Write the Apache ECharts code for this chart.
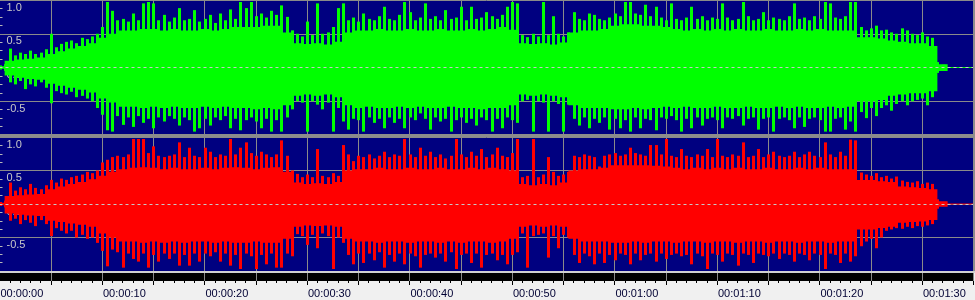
<!DOCTYPE html>
<html><head><meta charset="utf-8">
<script src="https://cdn.jsdelivr.net/npm/echarts@6/dist/echarts.min.js"></script>
<style>html,body{margin:0;padding:0;background:#f0f0f0;overflow:hidden}#c{width:975px;height:300px}</style>
</head><body><div id="c"></div>
<script>
// ---- tick labels ----
const timeTickValues = [0,10,20,30,40,50,60,70,80,90];
const timeTickLabels = ['00:00:00','00:00:10','00:00:20','00:00:30','00:00:40','00:00:50','00:01:00','00:01:10','00:01:20','00:01:30'];
const ampTickValues = [1, 0.5, 0, -0.5];
const ampTickLabels = ['1.0','0.5','0.0','-0.5'];

// ---- time resolution of the arrays (seconds per entry) ----
const bodyStep = 1;
const peakStep = 0.5;
const trackEnd = 95;

// ---- left channel (green): dense body envelope, 1 s bins ----
const leftBodyUpper = [0.02,0.1,0.12,0.13,0.15,0.2,0.24,0.28,0.32,0.36,
0.44,0.5,0.55,0.55,0.57,0.57,0.55,0.57,0.55,0.55,
0.57,0.55,0.57,0.6,0.6,0.6,0.62,0.62,0.52,0.36,
0.35,0.36,0.34,0.38,0.52,0.55,0.55,0.57,0.55,0.55,
0.57,0.55,0.55,0.57,0.55,0.55,0.57,0.55,0.57,0.6,
0.56,0.36,0.35,0.36,0.34,0.37,0.52,0.55,0.55,0.57,
0.62,0.64,0.64,0.62,0.62,0.6,0.57,0.55,0.57,0.55,
0.57,0.55,0.57,0.55,0.55,0.57,0.55,0.55,0.57,0.55,
0.57,0.55,0.55,0.55,0.45,0.45,0.43,0.4,0.38,0.36,
0.36,0.32,0.05];
const leftBodyLower = [-0.02,-0.12,-0.15,-0.17,-0.18,-0.24,-0.27,-0.3,-0.33,-0.37,
-0.46,-0.52,-0.58,-0.58,-0.6,-0.58,-0.6,-0.58,-0.6,-0.6,
-0.58,-0.6,-0.58,-0.6,-0.6,-0.62,-0.6,-0.62,-0.56,-0.42,
-0.4,-0.42,-0.4,-0.44,-0.56,-0.6,-0.58,-0.6,-0.6,-0.58,
-0.6,-0.58,-0.6,-0.6,-0.58,-0.6,-0.6,-0.62,-0.6,-0.6,
-0.56,-0.4,-0.42,-0.4,-0.42,-0.44,-0.56,-0.6,-0.6,-0.6,
-0.62,-0.62,-0.6,-0.62,-0.6,-0.58,-0.6,-0.58,-0.6,-0.6,
-0.58,-0.6,-0.6,-0.58,-0.6,-0.6,-0.58,-0.6,-0.58,-0.6,
-0.6,-0.58,-0.6,-0.58,-0.5,-0.5,-0.48,-0.42,-0.4,-0.38,
-0.38,-0.35,-0.05];
// ---- left channel: peak values, 0.5 s bins ----
const leftPeakUpper = [0.03,0.05,0.28,0.18,0.22,0.2,0.25,0.2,0.22,0.27,
0.5,0.3,0.35,0.38,0.4,0.36,0.44,0.42,0.46,0.5,
0.6,0.97,0.84,0.7,0.72,0.68,0.8,0.7,0.95,0.97,
0.95,0.7,0.78,0.68,0.74,0.88,0.7,0.72,0.85,0.68,
0.72,0.78,0.66,0.8,0.7,0.86,0.72,0.97,0.88,0.97,
0.76,0.8,0.74,0.84,0.78,0.92,0.75,0.55,0.5,0.46,
0.68,0.48,0.95,0.5,0.52,0.6,0.88,0.95,0.7,0.74,
0.68,0.8,0.72,0.7,0.76,0.9,0.72,0.7,0.78,0.97,
0.82,0.7,0.74,0.95,0.72,0.76,0.7,0.85,0.72,0.74,
0.9,0.7,0.9,0.72,0.74,0.82,0.76,0.72,0.78,0.9,
0.97,0.95,0.48,0.45,0.5,0.46,0.97,0.48,0.76,0.5,
0.46,0.52,0.82,0.72,0.7,0.8,0.78,0.72,0.7,0.74,
0.8,0.76,0.97,0.97,0.8,0.78,0.93,0.76,0.9,0.74,
0.7,0.95,0.72,0.7,0.74,0.9,0.72,0.76,0.7,0.74,
0.72,0.95,0.74,0.7,0.72,0.97,0.76,0.7,0.72,0.82,
0.7,0.74,0.72,0.7,0.76,0.95,0.72,0.74,0.7,0.76,
0.72,0.97,0.95,0.74,0.72,0.76,0.97,0.97,0.6,0.55,
0.58,0.62,0.55,0.56,0.52,0.5,0.58,0.55,0.5,0.48,
0.52,0.46,0.44,0.08,0.04];
const leftPeakLower = [-0.03,-0.05,-0.22,-0.25,-0.2,-0.32,-0.25,-0.28,-0.22,-0.3,
-0.53,-0.35,-0.38,-0.4,-0.36,-0.44,-0.42,-0.46,-0.5,-0.6,
-0.7,-0.93,-0.95,-0.72,-0.85,-0.74,-0.88,-0.72,-0.82,-0.76,
-0.9,-0.74,-0.8,-0.72,-0.76,-0.86,-0.74,-0.78,-0.95,-0.9,
-0.76,-0.86,-0.74,-0.78,-0.72,-0.9,-0.76,-0.93,-0.78,-0.74,
-0.8,-0.9,-0.76,-0.95,-0.78,-0.95,-0.74,-0.62,-0.5,-0.52,
-0.95,-0.5,-0.55,-0.62,-0.52,-0.95,-0.6,-0.8,-0.92,-0.76,
-0.78,-0.95,-0.74,-0.82,-0.76,-0.9,-0.74,-0.82,-0.76,-0.9,
-0.74,-0.78,-0.68,-0.76,-0.92,-0.74,-0.8,-0.76,-0.95,-0.78,
-0.74,-0.82,-0.76,-0.86,-0.74,-0.78,-0.95,-0.76,-0.9,-0.74,
-0.78,-0.82,-0.5,-0.48,-0.95,-0.5,-0.52,-0.95,-0.5,-0.54,
-0.95,-0.55,-0.76,-0.86,-0.74,-0.9,-0.76,-0.82,-0.74,-0.92,
-0.76,-0.9,-0.78,-0.95,-0.74,-0.9,-0.76,-0.78,-0.93,-0.74,
-0.76,-0.72,-0.78,-0.95,-0.76,-0.9,-0.74,-0.86,-0.76,-0.74,
-0.78,-0.9,-0.74,-0.76,-0.72,-0.86,-0.76,-0.74,-0.92,-0.76,
-0.74,-0.95,-0.76,-0.74,-0.78,-0.9,-0.74,-0.88,-0.76,-0.74,
-0.78,-0.95,-0.95,-0.76,-0.74,-0.92,-0.8,-0.95,-0.66,-0.75,
-0.6,-0.72,-0.6,-0.56,-0.64,-0.54,-0.5,-0.56,-0.5,-0.48,
-0.46,-0.56,-0.44,-0.08,-0.04];

// ---- right channel (red): dense body envelope, 1 s bins ----
const rightBodyUpper = [0.02,0.12,0.13,0.14,0.15,0.22,0.26,0.3,0.33,0.37,
0.42,0.48,0.52,0.54,0.55,0.54,0.52,0.54,0.52,0.52,
0.54,0.52,0.54,0.55,0.54,0.52,0.54,0.55,0.48,0.32,
0.3,0.31,0.3,0.33,0.5,0.52,0.52,0.54,0.52,0.52,
0.54,0.52,0.52,0.54,0.52,0.52,0.54,0.52,0.54,0.52,
0.5,0.3,0.28,0.3,0.28,0.32,0.5,0.52,0.52,0.54,
0.58,0.58,0.58,0.58,0.57,0.56,0.54,0.52,0.54,0.52,
0.54,0.52,0.54,0.52,0.52,0.54,0.52,0.52,0.54,0.52,
0.54,0.52,0.52,0.52,0.36,0.36,0.34,0.33,0.26,0.25,
0.24,0.22,0.04];
const rightBodyLower = [-0.02,-0.14,-0.16,-0.17,-0.18,-0.25,-0.27,-0.29,-0.31,-0.34,
-0.44,-0.5,-0.56,-0.56,-0.58,-0.56,-0.58,-0.56,-0.58,-0.56,
-0.56,-0.58,-0.56,-0.58,-0.58,-0.56,-0.58,-0.58,-0.52,-0.34,
-0.32,-0.33,-0.32,-0.34,-0.52,-0.56,-0.56,-0.58,-0.56,-0.56,
-0.58,-0.56,-0.56,-0.58,-0.56,-0.58,-0.56,-0.56,-0.58,-0.56,
-0.52,-0.34,-0.32,-0.34,-0.32,-0.34,-0.52,-0.56,-0.56,-0.56,
-0.58,-0.58,-0.56,-0.58,-0.56,-0.56,-0.58,-0.56,-0.56,-0.58,
-0.56,-0.56,-0.58,-0.56,-0.56,-0.58,-0.56,-0.56,-0.58,-0.56,
-0.56,-0.58,-0.56,-0.56,-0.38,-0.38,-0.36,-0.34,-0.28,-0.27,
-0.26,-0.24,-0.04];
// ---- right channel: peak values, 0.5 s bins ----
const rightPeakUpper = [0.03,0.05,0.32,0.2,0.25,0.22,0.3,0.24,0.22,0.28,
0.36,0.32,0.38,0.36,0.4,0.42,0.44,0.48,0.46,0.5,
0.62,0.66,0.7,0.72,0.7,0.74,0.97,0.97,0.97,0.76,
0.86,0.72,0.7,0.72,0.74,0.92,0.7,0.84,0.72,0.7,
0.84,0.78,0.7,0.74,0.72,0.97,0.74,0.84,0.92,0.76,
0.72,0.78,0.74,0.7,0.74,0.95,0.72,0.5,0.45,0.4,
0.44,0.4,0.82,0.42,0.4,0.46,0.42,0.88,0.74,0.64,
0.72,0.7,0.74,0.68,0.72,0.78,0.7,0.74,0.72,0.97,
0.74,0.7,0.84,0.72,0.78,0.7,0.74,0.68,0.72,0.97,
0.74,0.7,0.78,0.72,0.82,0.7,0.74,0.84,0.72,0.7,
0.76,0.97,0.4,0.42,0.97,0.4,0.44,0.7,0.48,0.42,
0.44,0.48,0.72,0.7,0.74,0.72,0.7,0.56,0.72,0.74,
0.76,0.72,0.74,0.84,0.76,0.74,0.72,0.88,0.88,0.74,
0.97,0.72,0.7,0.82,0.72,0.7,0.74,0.72,0.82,0.7,
0.97,0.72,0.7,0.74,0.72,0.92,0.7,0.72,0.82,0.7,
0.74,0.78,0.72,0.7,0.72,0.78,0.7,0.74,0.78,0.72,
0.7,0.92,0.74,0.7,0.78,0.72,0.96,0.95,0.47,0.44,
0.42,0.46,0.4,0.42,0.38,0.41,0.35,0.33,0.32,0.34,
0.3,0.32,0.3,0.07,0.03];
const rightPeakLower = [-0.03,-0.05,-0.25,-0.22,-0.3,-0.24,-0.28,-0.33,-0.24,-0.3,
-0.48,-0.36,-0.4,-0.44,-0.4,-0.5,-0.46,-0.52,-0.5,-0.58,
-0.7,-0.93,-0.68,-0.72,-0.95,-0.74,-0.82,-0.86,-0.74,-0.95,
-0.76,-0.86,-0.74,-0.82,-0.74,-0.92,-0.76,-0.92,-0.74,-0.86,
-0.74,-0.78,-0.72,-0.86,-0.74,-0.92,-0.76,-0.97,-0.74,-0.78,
-0.97,-0.76,-0.9,-0.74,-0.95,-0.95,-0.74,-0.78,-0.45,-0.48,
-0.61,-0.46,-0.66,-0.44,-0.48,-0.97,-0.5,-0.58,-0.76,-0.9,
-0.74,-0.88,-0.74,-0.84,-0.72,-0.95,-0.76,-0.86,-0.74,-0.9,
-0.74,-0.78,-0.95,-0.76,-0.74,-0.8,-0.74,-0.86,-0.72,-0.97,
-0.76,-0.74,-0.88,-0.74,-0.95,-0.76,-0.74,-0.84,-0.76,-0.9,
-0.76,-0.72,-0.44,-0.95,-0.48,-0.46,-0.44,-0.8,-0.48,-0.66,
-0.46,-0.5,-0.76,-0.88,-0.74,-0.78,-0.9,-0.74,-0.88,-0.76,
-0.84,-0.74,-0.76,-0.9,-0.74,-0.84,-0.76,-0.74,-0.86,-0.74,
-0.82,-0.76,-0.74,-0.78,-0.76,-0.9,-0.74,-0.78,-0.97,-0.74,
-0.76,-0.86,-0.74,-0.76,-0.92,-0.74,-0.76,-0.88,-0.74,-0.76,
-0.78,-0.74,-0.82,-0.74,-0.76,-0.86,-0.74,-0.76,-0.84,-0.74,
-0.76,-0.97,-0.74,-0.76,-0.88,-0.74,-0.86,-0.78,-0.63,-0.56,
-0.52,-0.66,-0.5,-0.4,-0.38,-0.36,-0.37,-0.34,-0.36,-0.33,
-0.34,-0.32,-0.3,-0.07,-0.03];

// ---------------- chart ----------------
const NAVY = '#000080', GRIDC = '#8a8a8a';
const chart = echarts.init(document.getElementById('c'), null, {renderer: 'canvas'});

function ampLabel(v) {
  const i = ampTickValues.findIndex(a => Math.abs(a - v) < 1e-9);
  return i < 0 ? '' : ampTickLabels[i];
}
function timeLabel(v) {
  const i = timeTickValues.findIndex(a => Math.abs(a - v) < 1e-9);
  return i < 0 ? '' : timeTickLabels[i];
}

const panelX = (gi) => ({
  type: 'value', gridIndex: gi, min: 0, max: trackEnd, interval: 5,
  axisLine: {show: false}, axisTick: {show: false}, axisLabel: {show: false},
  splitLine: {show: true, lineStyle: {color: GRIDC, width: 1}}
});
const panelY = (gi) => ({
  type: 'value', gridIndex: gi, min: -1, max: 1, interval: 0.5,
  axisLine: {show: false},
  axisTick: {show: false, inside: true},
  minorTick: {show: true, splitNumber: 4, length: 3, lineStyle: {color: '#b8b8b8', width: 1}},
  minorSplitLine: {show: false},
  splitLine: {show: true, lineStyle: {color: GRIDC, width: 1}},
  axisLabel: {show: true, inside: true, align: 'left', verticalAlign: 'top', margin: 7,
    padding: [2, 0, 0, 0], color: '#c8c8c8', fontSize: 11, fontFamily: 'Liberation Sans',
    formatter: ampLabel}
});

// body envelope drawn as a stepped outline: each 1 s entry spans its own bin
function bodySeries(gi, upper, lower, color) {
  return {
    type: 'custom', xAxisIndex: gi, yAxisIndex: gi, z: 2, silent: true, clip: true,
    data: [[0]],
    renderItem: function (params, api) {
      const pts = [];
      const h = bodyStep / 2;
      for (let i = 0; i < upper.length; i++) {
        pts.push(api.coord([Math.max(0, i * bodyStep - h), upper[i]]));
        pts.push(api.coord([i * bodyStep + h, upper[i]]));
      }
      for (let i = lower.length - 1; i >= 0; i--) {
        pts.push(api.coord([i * bodyStep + h, lower[i]]));
        pts.push(api.coord([Math.max(0, i * bodyStep - h), lower[i]]));
      }
      return {type: 'polygon', shape: {points: pts}, style: {fill: color}};
    }
  };
}
function peakSeries(gi, pu, pl, color) {
  return {
    type: 'custom', xAxisIndex: gi, yAxisIndex: gi, z: 2, silent: true, clip: true,
    data: pu.map((u, i) => [i * peakStep, u, pl[i]]),
    renderItem: function (params, api) {
      const t = api.value(0);
      const a = api.coord([t, api.value(1)]);
      const b = api.coord([t, api.value(2)]);
      const x = Math.round(a[0]) - 1;
      return {type: 'rect', shape: {x: x, y: a[1], width: 3, height: b[1] - a[1]}, style: {fill: color}};
    }
  };
}
function zeroSeries(gi, color) {
  return {
    type: 'line', xAxisIndex: gi, yAxisIndex: gi, z: 3, silent: true, symbol: 'none',
    data: [[0, 0], [trackEnd, 0]],
    lineStyle: {color: color, width: 1},
    markLine: {silent: true, symbol: 'none', animation: false, label: {show: false},
      lineStyle: {type: [3, 3], color: '#c8c8c8', width: 1},
      data: [{yAxis: 0}]}
  };
}

const option = {
  animation: false,
  backgroundColor: '#f0f0f0',
  grid: [
    {left: -0.5, top: 0, width: 973.75, height: 135, show: true, backgroundColor: NAVY, borderWidth: 0, outerBoundsMode: 'none'},
    {left: -0.5, top: 137, width: 973.75, height: 134, show: true, backgroundColor: NAVY, borderWidth: 0, outerBoundsMode: 'none'},
    {left: -0.5, top: 273, width: 973.75, height: 8, show: true, backgroundColor: '#000000', borderWidth: 0, outerBoundsMode: 'none'}
  ],
  xAxis: [
    panelX(0), panelX(1),
    {type: 'value', gridIndex: 2, min: 0, max: trackEnd, interval: 5, position: 'bottom',
      axisLine: {show: false},
      axisTick: {show: true, length: 4, lineStyle: {color: '#000000', width: 1}},
      minorTick: {show: true, splitNumber: 5, length: 2, lineStyle: {color: '#000000', width: 1}},
      splitLine: {show: true, lineStyle: {color: GRIDC, width: 1}},
      axisLabel: {show: true, formatter: timeLabel, align: 'left', margin: 7, padding: [0, 0, 0, 1],
        color: '#000033', fontSize: 11, fontFamily: 'Liberation Sans', showMinLabel: true, showMaxLabel: true, hideOverlap: false}}
  ],
  yAxis: [panelY(0), panelY(1), {type: 'value', gridIndex: 2, min: 0, max: 1, show: false}],
  graphic: [
    {type: 'rect', z: 100, silent: true, shape: {x: 0, y: 134, width: 975, height: 3}, style: {fill: '#8c8c8c'}},
    {type: 'rect', z: 100, silent: true, shape: {x: 973, y: 0, width: 2, height: 271}, style: {fill: '#8c8c8c'}},
    {type: 'rect', z: 100, silent: true, shape: {x: 0, y: 271, width: 975, height: 2}, style: {fill: '#d0d0d0'}}
  ],
  series: [
    bodySeries(0, leftBodyUpper, leftBodyLower, '#00ff00'),
    peakSeries(0, leftPeakUpper, leftPeakLower, '#00ff00'),
    zeroSeries(0, '#00ff00'),
    bodySeries(1, rightBodyUpper, rightBodyLower, '#ff0000'),
    peakSeries(1, rightPeakUpper, rightPeakLower, '#ff0000'),
    zeroSeries(1, '#ff0000')
  ]
};
chart.setOption(option);
</script>
</body></html>
